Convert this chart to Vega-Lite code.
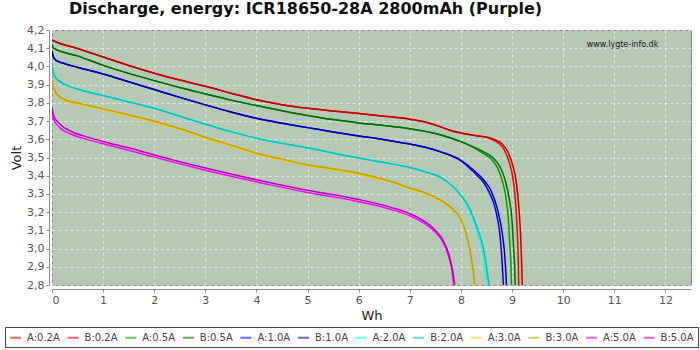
{
  "$schema": "https://vega.github.io/schema/vega-lite/v6.json",
  "autosize": {"type": "none"},
  "width": 639,
  "height": 255,
  "padding": {"left": 52, "top": 30, "right": 9, "bottom": 65},
  "background": "#ffffff",
  "config": {
    "font": "DejaVu Sans",
    "view": {"fill": "#b5c9b5", "stroke": "#8a8a8a", "strokeWidth": 1},
    "axisY": {"labelOverlap": false},
    "axisX": {"labelOverlap": false}
  },
  "title": {
    "text": "Discharge, energy: ICR18650-28A 2800mAh (Purple)",
    "anchor": "start",
    "frame": "group",
    "dx": 17,
    "offset": 7,
    "font": "DejaVu Sans",
    "fontSize": 16,
    "fontWeight": "bold",
    "color": "#111111"
  },
  "datasets": {
    "curves": [
      {"s":"A:0.2A","x":0,"y":4.145},{"s":"A:0.2A","x":0.05,"y":4.138},{"s":"A:0.2A","x":0.5,"y":4.098},{"s":"A:0.2A","x":1,"y":4.052},{"s":"A:0.2A","x":1.5,"y":4.005},{"s":"A:0.2A","x":2,"y":3.963},{"s":"A:0.2A","x":2.5,"y":3.925},{"s":"A:0.2A","x":3,"y":3.891},{"s":"A:0.2A","x":3.5,"y":3.853},{"s":"A:0.2A","x":4,"y":3.817},{"s":"A:0.2A","x":4.5,"y":3.79},{"s":"A:0.2A","x":5,"y":3.77},{"s":"A:0.2A","x":5.5,"y":3.755},{"s":"A:0.2A","x":6,"y":3.742},{"s":"A:0.2A","x":6.5,"y":3.727},{"s":"A:0.2A","x":7,"y":3.71},{"s":"A:0.2A","x":7.3,"y":3.695},{"s":"A:0.2A","x":7.6,"y":3.668},{"s":"A:0.2A","x":7.8,"y":3.648},{"s":"A:0.2A","x":8,"y":3.634},{"s":"A:0.2A","x":8.3,"y":3.62},{"s":"A:0.2A","x":8.6,"y":3.6},{"s":"A:0.2A","x":8.75,"y":3.575},{"s":"A:0.2A","x":8.85,"y":3.54},{"s":"A:0.2A","x":8.95,"y":3.47},{"s":"A:0.2A","x":9.02,"y":3.38},{"s":"A:0.2A","x":9.07,"y":3.25},{"s":"A:0.2A","x":9.1,"y":3.1},{"s":"A:0.2A","x":9.12,"y":2.95},{"s":"A:0.2A","x":9.13,"y":2.8},

      {"s":"B:0.2A","x":0,"y":4.145},{"s":"B:0.2A","x":0.05,"y":4.138},{"s":"B:0.2A","x":0.5,"y":4.098},{"s":"B:0.2A","x":1,"y":4.052},{"s":"B:0.2A","x":1.5,"y":4.005},{"s":"B:0.2A","x":2,"y":3.963},{"s":"B:0.2A","x":2.5,"y":3.925},{"s":"B:0.2A","x":3,"y":3.891},{"s":"B:0.2A","x":3.5,"y":3.853},{"s":"B:0.2A","x":4,"y":3.817},{"s":"B:0.2A","x":4.5,"y":3.79},{"s":"B:0.2A","x":5,"y":3.77},{"s":"B:0.2A","x":5.5,"y":3.755},{"s":"B:0.2A","x":6,"y":3.742},{"s":"B:0.2A","x":6.5,"y":3.727},{"s":"B:0.2A","x":7,"y":3.71},{"s":"B:0.2A","x":7.3,"y":3.695},{"s":"B:0.2A","x":7.6,"y":3.668},{"s":"B:0.2A","x":7.8,"y":3.648},{"s":"B:0.2A","x":8,"y":3.634},{"s":"B:0.2A","x":8.3,"y":3.62},{"s":"B:0.2A","x":8.6,"y":3.605},{"s":"B:0.2A","x":8.8,"y":3.575},{"s":"B:0.2A","x":8.92,"y":3.53},{"s":"B:0.2A","x":9.02,"y":3.45},{"s":"B:0.2A","x":9.09,"y":3.35},{"s":"B:0.2A","x":9.14,"y":3.2},{"s":"B:0.2A","x":9.17,"y":3.05},{"s":"B:0.2A","x":9.19,"y":2.9},{"s":"B:0.2A","x":9.2,"y":2.8},

      {"s":"A:0.5A","x":0,"y":4.122},{"s":"A:0.5A","x":0.03,"y":4.1},{"s":"A:0.5A","x":0.5,"y":4.058},{"s":"A:0.5A","x":1,"y":4.006},{"s":"A:0.5A","x":1.5,"y":3.962},{"s":"A:0.5A","x":2,"y":3.922},{"s":"A:0.5A","x":2.5,"y":3.884},{"s":"A:0.5A","x":3,"y":3.849},{"s":"A:0.5A","x":3.5,"y":3.815},{"s":"A:0.5A","x":4,"y":3.785},{"s":"A:0.5A","x":4.5,"y":3.757},{"s":"A:0.5A","x":5,"y":3.731},{"s":"A:0.5A","x":5.5,"y":3.708},{"s":"A:0.5A","x":6,"y":3.69},{"s":"A:0.5A","x":6.5,"y":3.675},{"s":"A:0.5A","x":7,"y":3.658},{"s":"A:0.5A","x":7.5,"y":3.632},{"s":"A:0.5A","x":7.8,"y":3.607},{"s":"A:0.5A","x":8,"y":3.587},{"s":"A:0.5A","x":8.25,"y":3.555},{"s":"A:0.5A","x":8.45,"y":3.52},{"s":"A:0.5A","x":8.6,"y":3.49},{"s":"A:0.5A","x":8.72,"y":3.44},{"s":"A:0.5A","x":8.8,"y":3.38},{"s":"A:0.5A","x":8.88,"y":3.28},{"s":"A:0.5A","x":8.93,"y":3.15},{"s":"A:0.5A","x":8.96,"y":3.0},{"s":"A:0.5A","x":8.98,"y":2.9},{"s":"A:0.5A","x":8.99,"y":2.8},

      {"s":"B:0.5A","x":0,"y":4.122},{"s":"B:0.5A","x":0.03,"y":4.1},{"s":"B:0.5A","x":0.5,"y":4.058},{"s":"B:0.5A","x":1,"y":4.006},{"s":"B:0.5A","x":1.5,"y":3.962},{"s":"B:0.5A","x":2,"y":3.922},{"s":"B:0.5A","x":2.5,"y":3.884},{"s":"B:0.5A","x":3,"y":3.849},{"s":"B:0.5A","x":3.5,"y":3.815},{"s":"B:0.5A","x":4,"y":3.785},{"s":"B:0.5A","x":4.5,"y":3.757},{"s":"B:0.5A","x":5,"y":3.731},{"s":"B:0.5A","x":5.5,"y":3.708},{"s":"B:0.5A","x":6,"y":3.69},{"s":"B:0.5A","x":6.5,"y":3.675},{"s":"B:0.5A","x":7,"y":3.658},{"s":"B:0.5A","x":7.5,"y":3.632},{"s":"B:0.5A","x":7.8,"y":3.607},{"s":"B:0.5A","x":8,"y":3.587},{"s":"B:0.5A","x":8.25,"y":3.557},{"s":"B:0.5A","x":8.45,"y":3.53},{"s":"B:0.5A","x":8.62,"y":3.5},{"s":"B:0.5A","x":8.76,"y":3.45},{"s":"B:0.5A","x":8.86,"y":3.38},{"s":"B:0.5A","x":8.94,"y":3.28},{"s":"B:0.5A","x":9.0,"y":3.15},{"s":"B:0.5A","x":9.03,"y":3.0},{"s":"B:0.5A","x":9.05,"y":2.9},{"s":"B:0.5A","x":9.06,"y":2.8},

      {"s":"A:1.0A","x":0,"y":4.085},{"s":"A:1.0A","x":0.03,"y":4.05},{"s":"A:1.0A","x":0.1,"y":4.03},{"s":"A:1.0A","x":0.25,"y":4.015},{"s":"A:1.0A","x":0.5,"y":3.995},{"s":"A:1.0A","x":1,"y":3.958},{"s":"A:1.0A","x":1.5,"y":3.916},{"s":"A:1.0A","x":2,"y":3.873},{"s":"A:1.0A","x":2.5,"y":3.83},{"s":"A:1.0A","x":3,"y":3.789},{"s":"A:1.0A","x":3.5,"y":3.75},{"s":"A:1.0A","x":4,"y":3.715},{"s":"A:1.0A","x":4.5,"y":3.688},{"s":"A:1.0A","x":5,"y":3.664},{"s":"A:1.0A","x":5.5,"y":3.64},{"s":"A:1.0A","x":6,"y":3.618},{"s":"A:1.0A","x":6.5,"y":3.598},{"s":"A:1.0A","x":7,"y":3.574},{"s":"A:1.0A","x":7.3,"y":3.556},{"s":"A:1.0A","x":7.6,"y":3.531},{"s":"A:1.0A","x":8,"y":3.482},{"s":"A:1.0A","x":8.25,"y":3.42},{"s":"A:1.0A","x":8.45,"y":3.36},{"s":"A:1.0A","x":8.55,"y":3.31},{"s":"A:1.0A","x":8.68,"y":3.21},{"s":"A:1.0A","x":8.76,"y":3.08},{"s":"A:1.0A","x":8.8,"y":2.95},{"s":"A:1.0A","x":8.83,"y":2.8},

      {"s":"B:1.0A","x":0,"y":4.085},{"s":"B:1.0A","x":0.03,"y":4.05},{"s":"B:1.0A","x":0.1,"y":4.03},{"s":"B:1.0A","x":0.25,"y":4.015},{"s":"B:1.0A","x":0.5,"y":3.995},{"s":"B:1.0A","x":1,"y":3.958},{"s":"B:1.0A","x":1.5,"y":3.916},{"s":"B:1.0A","x":2,"y":3.873},{"s":"B:1.0A","x":2.5,"y":3.83},{"s":"B:1.0A","x":3,"y":3.789},{"s":"B:1.0A","x":3.5,"y":3.75},{"s":"B:1.0A","x":4,"y":3.715},{"s":"B:1.0A","x":4.5,"y":3.688},{"s":"B:1.0A","x":5,"y":3.664},{"s":"B:1.0A","x":5.5,"y":3.64},{"s":"B:1.0A","x":6,"y":3.618},{"s":"B:1.0A","x":6.5,"y":3.598},{"s":"B:1.0A","x":7,"y":3.574},{"s":"B:1.0A","x":7.3,"y":3.556},{"s":"B:1.0A","x":7.6,"y":3.531},{"s":"B:1.0A","x":8,"y":3.484},{"s":"B:1.0A","x":8.25,"y":3.43},{"s":"B:1.0A","x":8.45,"y":3.375},{"s":"B:1.0A","x":8.6,"y":3.31},{"s":"B:1.0A","x":8.72,"y":3.21},{"s":"B:1.0A","x":8.81,"y":3.08},{"s":"B:1.0A","x":8.86,"y":2.95},{"s":"B:1.0A","x":8.89,"y":2.8},

      {"s":"A:2.0A","x":0,"y":4.004},{"s":"A:2.0A","x":0.03,"y":3.96},{"s":"A:2.0A","x":0.1,"y":3.93},{"s":"A:2.0A","x":0.2,"y":3.91},{"s":"A:2.0A","x":0.5,"y":3.876},{"s":"A:2.0A","x":1,"y":3.84},{"s":"A:2.0A","x":1.5,"y":3.805},{"s":"A:2.0A","x":2,"y":3.77},{"s":"A:2.0A","x":2.5,"y":3.726},{"s":"A:2.0A","x":3,"y":3.683},{"s":"A:2.0A","x":3.5,"y":3.642},{"s":"A:2.0A","x":4,"y":3.606},{"s":"A:2.0A","x":4.5,"y":3.578},{"s":"A:2.0A","x":5,"y":3.553},{"s":"A:2.0A","x":5.65,"y":3.515},{"s":"A:2.0A","x":6,"y":3.497},{"s":"A:2.0A","x":6.5,"y":3.472},{"s":"A:2.0A","x":7,"y":3.445},{"s":"A:2.0A","x":7.3,"y":3.422},{"s":"A:2.0A","x":7.6,"y":3.391},{"s":"A:2.0A","x":7.8,"y":3.35},{"s":"A:2.0A","x":8,"y":3.29},{"s":"A:2.0A","x":8.15,"y":3.22},{"s":"A:2.0A","x":8.25,"y":3.15},{"s":"A:2.0A","x":8.33,"y":3.08},{"s":"A:2.0A","x":8.41,"y":3.0},{"s":"A:2.0A","x":8.47,"y":2.9},{"s":"A:2.0A","x":8.52,"y":2.8},

      {"s":"B:2.0A","x":0,"y":4.004},{"s":"B:2.0A","x":0.03,"y":3.96},{"s":"B:2.0A","x":0.1,"y":3.93},{"s":"B:2.0A","x":0.2,"y":3.91},{"s":"B:2.0A","x":0.5,"y":3.876},{"s":"B:2.0A","x":1,"y":3.84},{"s":"B:2.0A","x":1.5,"y":3.805},{"s":"B:2.0A","x":2,"y":3.77},{"s":"B:2.0A","x":2.5,"y":3.726},{"s":"B:2.0A","x":3,"y":3.683},{"s":"B:2.0A","x":3.5,"y":3.642},{"s":"B:2.0A","x":4,"y":3.606},{"s":"B:2.0A","x":4.5,"y":3.578},{"s":"B:2.0A","x":5,"y":3.553},{"s":"B:2.0A","x":5.65,"y":3.515},{"s":"B:2.0A","x":6,"y":3.497},{"s":"B:2.0A","x":6.5,"y":3.472},{"s":"B:2.0A","x":7,"y":3.445},{"s":"B:2.0A","x":7.3,"y":3.422},{"s":"B:2.0A","x":7.6,"y":3.391},{"s":"B:2.0A","x":7.8,"y":3.352},{"s":"B:2.0A","x":8,"y":3.293},{"s":"B:2.0A","x":8.17,"y":3.22},{"s":"B:2.0A","x":8.27,"y":3.15},{"s":"B:2.0A","x":8.36,"y":3.08},{"s":"B:2.0A","x":8.44,"y":3.0},{"s":"B:2.0A","x":8.5,"y":2.9},{"s":"B:2.0A","x":8.55,"y":2.8},

      {"s":"A:3.0A","x":0,"y":3.92},{"s":"A:3.0A","x":0.03,"y":3.878},{"s":"A:3.0A","x":0.1,"y":3.84},{"s":"A:3.0A","x":0.3,"y":3.805},{"s":"A:3.0A","x":0.5,"y":3.792},{"s":"A:3.0A","x":1,"y":3.76},{"s":"A:3.0A","x":1.5,"y":3.727},{"s":"A:3.0A","x":2,"y":3.692},{"s":"A:3.0A","x":2.5,"y":3.652},{"s":"A:3.0A","x":3,"y":3.605},{"s":"A:3.0A","x":3.5,"y":3.562},{"s":"A:3.0A","x":4,"y":3.518},{"s":"A:3.0A","x":4.5,"y":3.485},{"s":"A:3.0A","x":5,"y":3.454},{"s":"A:3.0A","x":5.65,"y":3.425},{"s":"A:3.0A","x":6,"y":3.407},{"s":"A:3.0A","x":6.5,"y":3.373},{"s":"A:3.0A","x":7,"y":3.327},{"s":"A:3.0A","x":7.5,"y":3.275},{"s":"A:3.0A","x":7.8,"y":3.22},{"s":"A:3.0A","x":8,"y":3.155},{"s":"A:3.0A","x":8.1,"y":3.08},{"s":"A:3.0A","x":8.18,"y":2.98},{"s":"A:3.0A","x":8.23,"y":2.89},{"s":"A:3.0A","x":8.27,"y":2.8},

      {"s":"B:3.0A","x":0,"y":3.928},{"s":"B:3.0A","x":0.03,"y":3.886},{"s":"B:3.0A","x":0.1,"y":3.846},{"s":"B:3.0A","x":0.3,"y":3.812},{"s":"B:3.0A","x":0.5,"y":3.799},{"s":"B:3.0A","x":1,"y":3.767},{"s":"B:3.0A","x":1.5,"y":3.734},{"s":"B:3.0A","x":2,"y":3.699},{"s":"B:3.0A","x":2.5,"y":3.659},{"s":"B:3.0A","x":3,"y":3.611},{"s":"B:3.0A","x":3.5,"y":3.568},{"s":"B:3.0A","x":4,"y":3.524},{"s":"B:3.0A","x":4.5,"y":3.491},{"s":"B:3.0A","x":5,"y":3.46},{"s":"B:3.0A","x":5.65,"y":3.431},{"s":"B:3.0A","x":6,"y":3.413},{"s":"B:3.0A","x":6.5,"y":3.379},{"s":"B:3.0A","x":7,"y":3.333},{"s":"B:3.0A","x":7.5,"y":3.281},{"s":"B:3.0A","x":7.8,"y":3.226},{"s":"B:3.0A","x":8,"y":3.16},{"s":"B:3.0A","x":8.1,"y":3.085},{"s":"B:3.0A","x":8.18,"y":2.985},{"s":"B:3.0A","x":8.23,"y":2.895},{"s":"B:3.0A","x":8.27,"y":2.8},

      {"s":"A:5.0A","x":0,"y":3.75},{"s":"A:5.0A","x":0.03,"y":3.71},{"s":"A:5.0A","x":0.15,"y":3.665},{"s":"A:5.0A","x":0.4,"y":3.625},{"s":"A:5.0A","x":0.7,"y":3.598},{"s":"A:5.0A","x":1,"y":3.575},{"s":"A:5.0A","x":1.5,"y":3.54},{"s":"A:5.0A","x":2,"y":3.502},{"s":"A:5.0A","x":2.5,"y":3.465},{"s":"A:5.0A","x":3,"y":3.43},{"s":"A:5.0A","x":3.5,"y":3.397},{"s":"A:5.0A","x":4,"y":3.366},{"s":"A:5.0A","x":4.5,"y":3.336},{"s":"A:5.0A","x":5,"y":3.308},{"s":"A:5.0A","x":5.65,"y":3.277},{"s":"A:5.0A","x":6,"y":3.257},{"s":"A:5.0A","x":6.6,"y":3.217},{"s":"A:5.0A","x":7,"y":3.18},{"s":"A:5.0A","x":7.3,"y":3.135},{"s":"A:5.0A","x":7.5,"y":3.09},{"s":"A:5.0A","x":7.65,"y":3.035},{"s":"A:5.0A","x":7.75,"y":2.965},{"s":"A:5.0A","x":7.82,"y":2.885},{"s":"A:5.0A","x":7.86,"y":2.8},

      {"s":"B:5.0A","x":0,"y":3.776},{"s":"B:5.0A","x":0.03,"y":3.731},{"s":"B:5.0A","x":0.15,"y":3.685},{"s":"B:5.0A","x":0.4,"y":3.64},{"s":"B:5.0A","x":0.7,"y":3.612},{"s":"B:5.0A","x":1,"y":3.588},{"s":"B:5.0A","x":1.5,"y":3.553},{"s":"B:5.0A","x":2,"y":3.514},{"s":"B:5.0A","x":2.5,"y":3.477},{"s":"B:5.0A","x":3,"y":3.442},{"s":"B:5.0A","x":3.5,"y":3.409},{"s":"B:5.0A","x":4,"y":3.378},{"s":"B:5.0A","x":4.5,"y":3.348},{"s":"B:5.0A","x":5,"y":3.32},{"s":"B:5.0A","x":5.65,"y":3.289},{"s":"B:5.0A","x":6,"y":3.269},{"s":"B:5.0A","x":6.6,"y":3.229},{"s":"B:5.0A","x":7,"y":3.192},{"s":"B:5.0A","x":7.3,"y":3.147},{"s":"B:5.0A","x":7.5,"y":3.1},{"s":"B:5.0A","x":7.65,"y":3.045},{"s":"B:5.0A","x":7.76,"y":2.972},{"s":"B:5.0A","x":7.83,"y":2.89},{"s":"B:5.0A","x":7.88,"y":2.8}
    ],
    "note": [{"x": 11.16, "y": 4.118, "label": "www.lygte-info.dk"}]
  },
  "encoding": {
    "x": {
      "field": "x", "type": "quantitative",
      "scale": {"domain": [0, 12.5], "nice": false, "zero": false},
      "axis": {
        "title": "Wh",
        "values": [0,1,2,3,4,5,6,7,8,9,10,11,12],
        "offset": 4,
        "grid": true, "gridColor": "#ffffff", "gridDash": [3, 3], "gridOpacity": 0.55,
        "domainColor": "#8a8a8a", "tickColor": "#8a8a8a", "tickSize": 3,
        "labelColor": "#555555", "labelFontSize": 11, "labelPadding": 2, "labelOverlap": false,
        "titleColor": "#222222", "titleFontSize": 13, "titleFontWeight": "normal", "titlePadding": 4
      }
    },
    "y": {
      "field": "y", "type": "quantitative",
      "scale": {"domain": [2.8, 4.2], "nice": false, "zero": false},
      "axis": {
        "title": "Volt",
        "values": [2.8,2.9,3.0,3.1,3.2,3.3,3.4,3.5,3.6,3.7,3.8,3.9,4.0,4.1,4.2],
        "labelExpr": "replace(format(datum.value, '.1f'), '.', ',')",
        "labelOverlap": false,
        "offset": 3,
        "grid": true, "gridColor": "#ffffff", "gridDash": [3, 3], "gridOpacity": 0.55,
        "domainColor": "#8a8a8a", "tickColor": "#8a8a8a", "tickSize": 3,
        "labelColor": "#555555", "labelFontSize": 11, "labelPadding": 2,
        "titleColor": "#222222", "titleFontSize": 13, "titleFontWeight": "normal", "titlePadding": 3
      }
    }
  },
  "layer": [
    {
      "data": {"name": "curves"},
      "mark": {"type": "line", "strokeWidth": 1.5, "clip": true, "interpolate": "monotone"},
      "encoding": {
        "color": {
          "field": "s", "type": "nominal",
          "scale": {
            "domain": ["A:0.2A","B:0.2A","A:0.5A","B:0.5A","A:1.0A","B:1.0A","A:2.0A","B:2.0A","A:3.0A","B:3.0A","A:5.0A","B:5.0A"],
            "range": ["#ff0000","#c00000","#00a000","#006e00","#0000ff","#0000b0","#00ffff","#00c0c0","#ffc800","#c0a000","#ff00ff","#c000c0"]
          },
          "legend": {
            "title": null,
            "orient": "none",
            "legendX": -47,
            "legendY": 297,
            "direction": "horizontal",
            "columns": 12,
            "columnPadding": 3.6,
            "padding": 4,
            "strokeColor": "#444444",
            "fillColor": "#ffffff",
            "symbolType": "stroke",
            "symbolSize": 121,
            "symbolStrokeWidth": 2,
            "symbolOpacity": 0.6,
            "labelFontSize": 10,
            "labelColor": "#444444",
            "labelOffset": 5
          }
        },
        "order": {"field": "s"}
      }
    },
    {
      "data": {"name": "note"},
      "mark": {"type": "text", "fontSize": 8, "color": "#1a1a1a", "align": "center", "baseline": "middle"},
      "encoding": {
        "text": {"field": "label"}
      }
    }
  ]
}
